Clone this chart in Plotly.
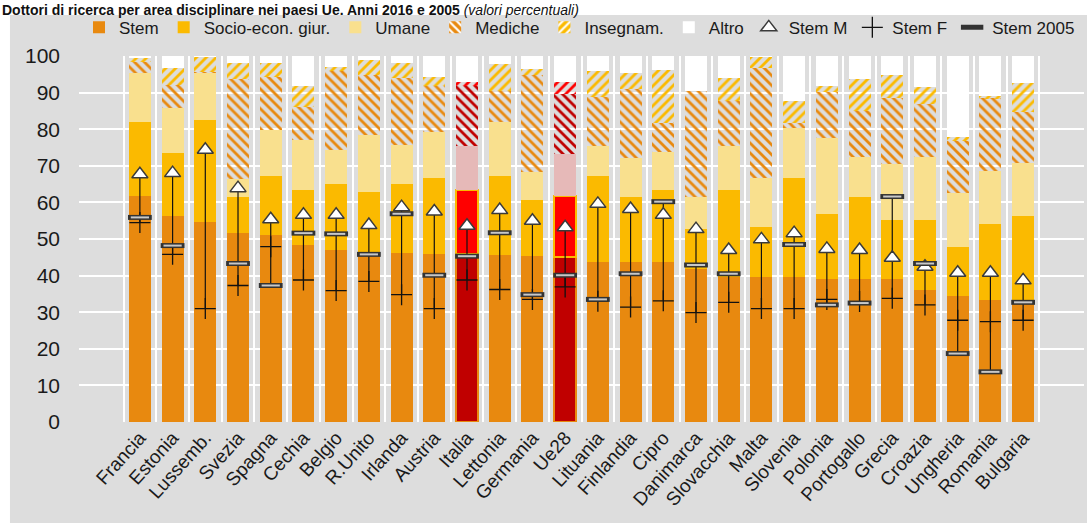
import plotly.graph_objects as go

countries = ["Francia", "Estonia", "Lussemb.", "Svezia", "Spagna", "Cechia", "Belgio", "R.Unito",
             "Irlanda", "Austria", "Italia", "Lettonia", "Germania", "Ue28", "Lituania", "Finlandia",
             "Cipro", "Danimarca", "Slovacchia", "Malta", "Slovenia", "Polonia", "Portogallo",
             "Grecia", "Croazia", "Ungheria", "Romania", "Bulgaria"]

stem = [61.8, 56.4, 54.7, 51.6, 51.2, 48.4, 47.0, 46.2, 46.2, 45.9, 45.9, 45.6, 45.3, 45.2,
        43.8, 43.8, 43.8, 41.7, 39.7, 39.7, 39.7, 39.2, 39.2, 39.2, 36.2, 34.4, 33.3, 33.0]
socio = [20.1, 17.2, 27.9, 10.0, 16.1, 15.0, 18.0, 16.7, 18.8, 20.9, 17.5, 21.7, 15.4, 16.6,
         23.5, 17.6, 19.6, 11.0, 23.7, 13.7, 27.1, 17.6, 22.2, 16.0, 19.0, 13.5, 20.8, 23.3]
umane = [13.5, 12.2, 12.8, 4.8, 12.4, 13.7, 9.4, 15.6, 10.8, 12.4, 11.9, 14.8, 7.7, 11.4,
         8.0, 10.7, 10.5, 8.7, 11.9, 13.2, 13.5, 20.8, 11.1, 15.3, 17.3, 14.8, 14.6, 14.4]
mediche = [2.9, 6.2, 0.2, 27.3, 14.5, 9.1, 21.4, 16.2, 18.2, 12.7, 16.4, 8.4, 26.5, 16.3,
           13.5, 18.9, 7.8, 29.0, 12.5, 30.2, 1.4, 12.5, 12.4, 17.9, 14.5, 14.0, 19.8, 13.9]
insegnam = [1.2, 4.8, 4.3, 4.4, 3.9, 5.7, 1.2, 4.2, 4.1, 2.4, 1.2, 7.4, 1.6, 3.4,
            7.2, 4.4, 14.4, 0.0, 6.2, 3.1, 5.9, 1.8, 8.7, 6.3, 4.5, 1.3, 0.5, 8.1]

stem_m = [67.7, 68.0, 74.4, 63.9, 55.4, 56.6, 56.6, 53.8, 58.7, 57.5, 53.6, 57.9, 55.0, 53.2,
          59.6, 58.2, 56.6, 52.7, 47.0, 49.9, 51.6, 47.3, 47.0, 44.9, 42.4, 40.8, 40.8, 38.7]
stem_f = [54.5, 45.8, 31.0, 37.3, 47.9, 38.8, 35.9, 38.4, 34.8, 31.0, 38.8, 36.2, 33.5, 36.9,
          33.0, 31.4, 33.1, 29.9, 32.7, 31.0, 31.0, 33.5, 32.9, 33.8, 32.0, 27.8, 27.4, 27.8]
stem_2005 = [55.9, 48.2, None, 43.3, 37.3, 51.6, 51.4, 45.8, 56.9, 40.1, 45.3, 51.7, 34.8, 40.1,
             33.5, 40.5, 60.2, 42.9, 40.5, None, 48.5, 32.0, 32.5, 61.6, 43.3, 18.7, 13.7, 32.7]

highlight = ["Italia", "Ue28"]

FONT = "Liberation Sans Narrow, Arial Narrow, Liberation Sans, Arial, sans-serif"
GREY = "#dddddd"
C_STEM, C_SOCIO, C_UMANE = "#e8890f", "#fbba00", "#f9e08e"
H_STEM, H_SOCIO, H_UMANE = "#c00000", "#ff0000", "#e6b9b8"

hl = [c in highlight for c in countries]
altro = [max(0.0, round(100 - (a + b + c + d + e), 2))
         for a, b, c, d, e in zip(stem, socio, umane, mediche, insegnam)]


def cols(normal, special):
    return [special if h else normal for h in hl]


fig = go.Figure()

fig.add_bar(name="Stem", x=countries, y=stem,
            marker=dict(color=cols(C_STEM, H_STEM),
                        line=dict(color=C_STEM, width=[2 if h else 0 for h in hl])))
fig.add_bar(name="Socio-econ. giur.", x=countries, y=socio,
            marker=dict(color=cols(C_SOCIO, H_SOCIO),
                        line=dict(color=C_SOCIO, width=[2 if h else 0 for h in hl])))
fig.add_bar(name="Umane", x=countries, y=umane,
            marker=dict(color=cols(C_UMANE, H_UMANE), line=dict(width=0)))
fig.add_bar(name="Mediche", x=countries, y=mediche,
            marker=dict(color=cols(C_STEM, H_STEM), line=dict(width=0),
                        pattern=dict(shape="\\", bgcolor=cols(C_STEM, H_STEM), fgcolor="white",
                                     fillmode="replace", size=7, solidity=0.4)))
fig.add_bar(name="Insegnam.", x=countries, y=insegnam,
            marker=dict(color=cols(C_SOCIO, H_SOCIO), line=dict(width=0),
                        pattern=dict(shape="/", bgcolor=cols(C_SOCIO, H_SOCIO), fgcolor="white",
                                     fillmode="replace", size=7, solidity=0.4)))
fig.add_bar(name="Altro", x=countries, y=altro,
            marker=dict(color="white", line=dict(width=0)))

# high-low connector lines
lx, ly = [], []
for c, m, f, s in zip(countries, stem_m, stem_f, stem_2005):
    vals = [v for v in (m, f, s) if v is not None]
    lx += [c, c, None]
    ly += [min(vals), max(vals), None]
fig.add_scatter(x=lx, y=ly, mode="lines", line=dict(color="#111111", width=1.2),
                showlegend=False, hoverinfo="skip")

fig.add_scatter(name="Stem M", x=countries, y=stem_m, mode="markers",
                marker=dict(symbol="triangle-up", size=14, color="white",
                            line=dict(color="#3a3a3a", width=1.5)))
fig.add_scatter(name="Stem F", x=countries, y=stem_f, mode="markers",
                marker=dict(symbol="cross-thin", size=15, color="#111111",
                            line=dict(color="#111111", width=1.3)))
fig.add_scatter(name="Stem 2005", x=countries, y=stem_2005, mode="markers",
                marker=dict(symbol="line-ew", size=17, color="#222222",
                            line=dict(color="#333333", width=5)))
fig.add_scatter(x=countries, y=stem_2005, mode="markers", showlegend=False,
                marker=dict(symbol="line-ew", size=13, color="#c8c8c8",
                            line=dict(color="#c8c8c8", width=2)))

fig.update_layout(
    width=1087, height=523,
    margin=dict(l=79, r=3, t=56, b=101),
    paper_bgcolor=GREY, plot_bgcolor=GREY,
    barmode="stack", bargap=0.33,
    font=dict(family=FONT, color="#1a1a1a", size=16),
    showlegend=True,
    legend=dict(orientation="h", x=0.0, xanchor="left", y=1.077, yanchor="middle",
                traceorder="normal", font=dict(size=17, family=FONT),
                bgcolor="rgba(0,0,0,0)", itemwidth=30, tracegroupgap=0),
    xaxis=dict(type="category", tickson="boundaries", showgrid=True, gridcolor="white",
               gridwidth=1.5, tickangle=-48, tickfont=dict(size=19, family=FONT),
               ticks="", showline=False, zeroline=False),
    yaxis=dict(range=[0, 100], dtick=10, showgrid=True, gridcolor="white", gridwidth=1.5,
               zeroline=False, tickfont=dict(size=21, family=FONT), ticks="",
               ticklabelstandoff=18),
    shapes=[
        dict(type="rect", xref="paper", yref="paper", x0=-0.2, x1=1.1, y0=1.1122, y1=1.3,
             fillcolor="white", line=dict(width=0), layer="below"),
        dict(type="rect", xref="paper", yref="paper", x0=-0.2, x1=-0.0687, y0=-0.5, y1=1.3,
             fillcolor="white", line=dict(width=0), layer="below"),
    ],
    annotations=[
        dict(xref="paper", yref="paper", x=-0.0786, y=1.152, xanchor="left", yanchor="top",
             showarrow=False, align="left",
             text="<b>Dottori di ricerca per area disciplinare nei paesi Ue. Anni 2016 e 2005</b> "
                  "<i>(valori percentuali)</i>",
             font=dict(size=14, family="Liberation Sans, Arial, sans-serif", color="#111111")),
    ],
)

fig.write_html("out.html", config={"displayModeBar": False},
               post_script="document.body.style.margin='0';")
